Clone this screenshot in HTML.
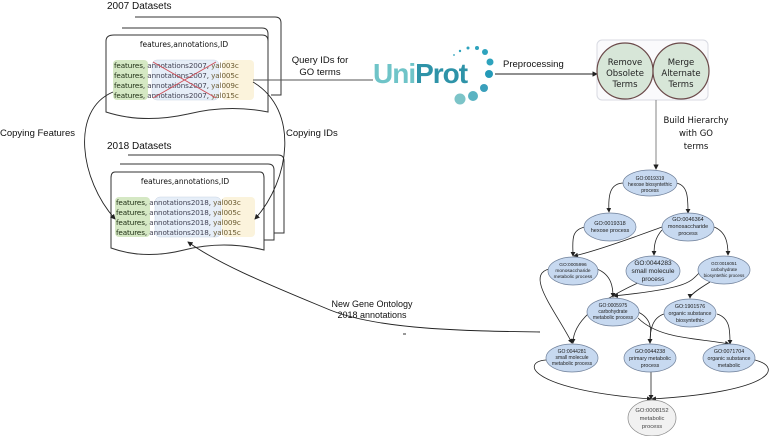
<!DOCTYPE html>
<html><head><meta charset="utf-8"><style>
html,body{margin:0;padding:0;background:#fff;}
svg{display:block;}
.h{font-family:"Comic Sans MS","DejaVu Sans",sans-serif;}
.s{font-family:"Liberation Sans",sans-serif;}
</style></head><body>
<svg width="777" height="436" viewBox="0 0 777 436" xmlns="http://www.w3.org/2000/svg">
<defs>
<marker id="a" markerWidth="6" markerHeight="6" refX="5" refY="3" orient="auto"><path d="M0,0 L6,3 L0,6 z" fill="#222"/></marker>
</defs>
<!-- 2007 datasets -->
<text x="107" y="9" class="s" font-size="10" fill="#111">2007 Datasets</text>
<path d="M135,17 h140 q6,0 6,6 v72 h-10" fill="#fff" stroke="#333" stroke-width="1"/>
<path d="M122,28 h140 q6,0 6,6 v70 h-10" fill="#fff" stroke="#333" stroke-width="1"/>
<path d="M114,35 h148 q6,0 6,6 v71 q-40,-8 -80,2 q-45,10 -82,-2 v-71 q0,-6 8,-6z" fill="#fff" stroke="#333" stroke-width="1"/>
<text x="184" y="47" class="h" font-size="7.5" text-anchor="middle" fill="#111">features,annotations,ID</text>
<rect x="113" y="60" width="35" height="40" rx="4" fill="#d5e8c4"/>
<rect x="152" y="60" width="67" height="40" rx="5" fill="#e6eef8" stroke="#c8d4e4" stroke-width="0.5"/>
<rect x="222" y="60" width="32" height="40" rx="4" fill="#fbf3dc"/>
<g class="h" font-size="7.2" letter-spacing="-0.1">
<text x="114" y="68"><tspan fill="#1a2a10">features</tspan><tspan fill="#333">, </tspan><tspan fill="#445">annotations2007</tspan><tspan fill="#333">, </tspan><tspan fill="#6a5a30">yal003c</tspan></text>
<text x="114" y="78"><tspan fill="#1a2a10">features</tspan><tspan fill="#333">, </tspan><tspan fill="#445">annotations2007</tspan><tspan fill="#333">, </tspan><tspan fill="#6a5a30">yal005c</tspan></text>
<text x="114" y="88"><tspan fill="#1a2a10">features</tspan><tspan fill="#333">, </tspan><tspan fill="#445">annotations2007</tspan><tspan fill="#333">, </tspan><tspan fill="#6a5a30">yal009c</tspan></text>
<text x="114" y="98"><tspan fill="#1a2a10">features</tspan><tspan fill="#333">, </tspan><tspan fill="#445">annotations2007</tspan><tspan fill="#333">, </tspan><tspan fill="#6a5a30">yal015c</tspan></text>
</g>
<path d="M153,62 L216,98 M216,62 L153,98" stroke="#d0505a" stroke-width="1"/>
<!-- 2018 -->
<text x="107" y="149" class="s" font-size="10" fill="#111">2018 Datasets</text>
<path d="M128,155 h150 q6,0 6,6 v72 h-10" fill="#fff" stroke="#333"/>
<path d="M120,164 h148 q6,0 6,6 v70 h-10" fill="#fff" stroke="#333"/>
<path d="M115,172 h145 q4,0 4,6 v72 q-40,-10 -80,0 q-40,10 -73,-2 v-70 q0,-6 4,-6z" fill="#fff" stroke="#333"/>
<text x="185" y="184" class="h" font-size="7.5" text-anchor="middle" fill="#111">features,annotations,ID</text>
<rect x="115" y="197" width="35" height="40" rx="4" fill="#d5e8c4"/>
<rect x="155" y="197" width="66" height="40" rx="5" fill="#e6eef8" stroke="#c8d4e4" stroke-width="0.5"/>
<rect x="222" y="197" width="33" height="40" rx="4" fill="#fbf3dc"/>
<g class="h" font-size="7.2" letter-spacing="-0.1">
<text x="116" y="205"><tspan fill="#1a2a10">features</tspan><tspan fill="#333">, </tspan><tspan fill="#445">annotations2018</tspan><tspan fill="#333">, </tspan><tspan fill="#6a5a30">yal003c</tspan></text>
<text x="116" y="215"><tspan fill="#1a2a10">features</tspan><tspan fill="#333">, </tspan><tspan fill="#445">annotations2018</tspan><tspan fill="#333">, </tspan><tspan fill="#6a5a30">yal005c</tspan></text>
<text x="116" y="225"><tspan fill="#1a2a10">features</tspan><tspan fill="#333">, </tspan><tspan fill="#445">annotations2018</tspan><tspan fill="#333">, </tspan><tspan fill="#6a5a30">yal009c</tspan></text>
<text x="116" y="235"><tspan fill="#1a2a10">features</tspan><tspan fill="#333">, </tspan><tspan fill="#445">annotations2018</tspan><tspan fill="#333">, </tspan><tspan fill="#6a5a30">yal015c</tspan></text>
</g>
<!-- copying curves -->
<path d="M113,92 C70,110 80,180 115,219" fill="none" stroke="#222" stroke-width="0.9" marker-end="url(#a)"/>
<text x="0" y="136" class="s" font-size="9.5" fill="#111">Copying Features</text>
<path d="M253,82 C300,110 290,180 255,219" fill="none" stroke="#222" stroke-width="0.9" marker-end="url(#a)"/>
<text x="286" y="136" class="s" font-size="9.5" fill="#111">Copying IDs</text>
<!-- query -->
<line x1="253" y1="80" x2="373" y2="80" stroke="#555" stroke-width="0.9"/>
<text x="320" y="63" class="s" font-size="9.5" text-anchor="middle" fill="#111">Query IDs for</text>
<text x="320" y="75" class="s" font-size="9.5" text-anchor="middle" fill="#111">GO terms</text>
<text x="373" y="83" class="s" font-size="28" font-weight="bold" fill="#3aa6b4" letter-spacing="-1"><tspan fill="#6fc4c8">Uni</tspan><tspan fill="#2e93a8">Prot</tspan></text>
<g fill="#2ea3bd">
<circle cx="460" cy="99" r="5.5" fill="#7cc4c8"/><circle cx="473" cy="96" r="5" fill="#5bb3c2"/>
<circle cx="484" cy="88" r="4" fill="#3a9fbb"/><circle cx="489" cy="74" r="4" fill="#249ab8"/>
<circle cx="490" cy="62" r="3.5"/><circle cx="485" cy="52" r="3"/><circle cx="477" cy="48" r="2"/>
<circle cx="468" cy="48" r="1.5"/><circle cx="460" cy="51" r="1.2"/><circle cx="454" cy="55" r="0.9"/>
</g>
<line x1="495" y1="74" x2="597" y2="74" stroke="#222" stroke-width="0.9" marker-end="url(#a)"/>
<text x="503" y="67" class="s" font-size="9.5" fill="#111">Preprocessing</text>
<!-- preprocessing box -->
<rect x="597" y="40" width="111" height="60" rx="5" fill="#fafafc" stroke="#d8dae2"/>
<circle cx="625" cy="71" r="28" fill="#d7e6d8" stroke="#6b4a4a" stroke-width="1.2"/>
<circle cx="681" cy="71" r="28" fill="#d7e6d8" stroke="#6b4a4a" stroke-width="1.2"/>
<g class="h" font-size="8.5" text-anchor="middle" fill="#222">
<text x="625" y="65">Remove</text><text x="625" y="76">Obsolete</text><text x="625" y="87">Terms</text>
<text x="681" y="65">Merge</text><text x="681" y="76">Alternate</text><text x="681" y="87">Terms</text>
</g>
<line x1="656" y1="100" x2="656" y2="169" stroke="#777" stroke-width="0.9" marker-end="url(#a)"/>
<g class="h" font-size="8.5" text-anchor="middle" fill="#111">
<text x="696" y="123">Build Hierarchy</text><text x="696" y="136">with GO</text><text x="696" y="149">terms</text>
</g>
<!-- new GO curve -->
<path d="M540,332 C470,331 380,330 330,310 C270,285 220,265 188,242" fill="none" stroke="#222" stroke-width="0.9" marker-end="url(#a)"/>
<text x="372" y="307" class="s" font-size="9" text-anchor="middle" fill="#111">New Gene Ontology</text>
<text x="372" y="318" class="s" font-size="9" text-anchor="middle" fill="#111">2018 annotations</text>
<line x1="403" y1="334" x2="406" y2="334" stroke="#333"/>
<!-- GO edges -->
<g fill="none" stroke="#222" stroke-width="0.8">
<path d="M624,183 C610,183 608,195 609,212" marker-end="url(#a)"/>
<path d="M676,183 C688,185 688,198 688,213" marker-end="url(#a)"/>
<path d="M585,227 C570,230 573,242 573,256" marker-end="url(#a)"/>
<path d="M662,227 C640,235 600,250 574,256" marker-end="url(#a)"/>
<path d="M662,230 C655,238 654,245 654,255" marker-end="url(#a)"/>
<path d="M714,227 C727,232 728,245 728,255" marker-end="url(#a)"/>
<path d="M549,269 C525,275 555,310 572,343" marker-end="url(#a)"/>
<path d="M597,269 C612,275 613,288 613,297" marker-end="url(#a)"/>
<path d="M640,282 C600,300 573,320 573,343" marker-end="url(#a)"/>
<path d="M700,272 C690,282 690,288 614,296" marker-end="url(#a)"/>
<path d="M710,282 C697,290 690,295 690,298" marker-end="url(#a)"/>
<path d="M638,312 C655,320 650,335 650,343" marker-end="url(#a)"/>
<path d="M638,318 C660,340 700,338 729,344" marker-end="url(#a)"/>
<path d="M664,314 C652,318 650,330 650,343" marker-end="url(#a)"/>
<path d="M717,314 C730,318 730,330 730,344" marker-end="url(#a)"/>
<path d="M546,360 C520,362 530,390 651,399" marker-end="url(#a)"/>
<path d="M651,372 L651,399" marker-end="url(#a)"/>
<path d="M755,360 C785,368 770,392 652,399" marker-end="url(#a)"/>
</g>
<!-- GO nodes -->
<g stroke="#6e7f99" stroke-width="0.7" fill="#c7d9f0">
<ellipse cx="650" cy="183" rx="27" ry="13"/>
<ellipse cx="610" cy="227" rx="26" ry="14"/>
<ellipse cx="688" cy="227" rx="26" ry="14"/>
<ellipse cx="573" cy="271" rx="25" ry="14"/>
<ellipse cx="653" cy="271" rx="27" ry="15"/>
<ellipse cx="724" cy="270" rx="26" ry="14"/>
<ellipse cx="613" cy="312" rx="26" ry="14"/>
<ellipse cx="690" cy="313" rx="26" ry="14"/>
<ellipse cx="572" cy="358" rx="26" ry="14"/>
<ellipse cx="650" cy="358" rx="26" ry="14"/>
<ellipse cx="729" cy="358" rx="26" ry="14"/>
<ellipse cx="652" cy="418" rx="24" ry="18" fill="#f1f1f1" stroke="#888"/>
</g>
<g class="s" text-anchor="middle" fill="#222">
<g font-size="5"><text x="650" y="180">GO:0019319</text><text x="650" y="186">hexose biosyntethic</text><text x="650" y="192">process</text></g>
<g font-size="5.5"><text x="610" y="225">GO:0019318</text><text x="610" y="232">hexose process</text></g>
<g font-size="5.5"><text x="688" y="221">GO:0046364</text><text x="688" y="228">monosaccharide</text><text x="688" y="235">process</text></g>
<g font-size="4.8"><text x="573" y="266">GO:0005996</text><text x="573" y="272">monosaccharide</text><text x="573" y="278">metabolic process</text></g>
<g font-size="6.5"><text x="653" y="265">GO:0044283</text><text x="653" y="273">small molecule</text><text x="653" y="281">process</text></g>
<g font-size="4.5"><text x="724" y="265">GO:0016051</text><text x="724" y="271">carbohydrate</text><text x="724" y="277">biosyntethic process</text></g>
<g font-size="5"><text x="613" y="307">GO:0005975</text><text x="613" y="313">carbohydrate</text><text x="613" y="319">metabolic process</text></g>
<g font-size="5.3"><text x="690" y="308">GO:1901576</text><text x="690" y="315">organic substance</text><text x="690" y="322">biosyntethic</text></g>
<g font-size="5"><text x="572" y="353">GO:0044281</text><text x="572" y="359">small molecule</text><text x="572" y="365">metabolic process</text></g>
<g font-size="5.3"><text x="650" y="353">GO:0044238</text><text x="650" y="360">primary metabolic</text><text x="650" y="367">process</text></g>
<g font-size="5.3"><text x="729" y="353">GO:0071704</text><text x="729" y="360">organic substance</text><text x="729" y="367">metabolic</text></g>
<g font-size="5.8" fill="#444"><text x="652" y="412">GO:0008152</text><text x="652" y="420">metabolic</text><text x="652" y="428">process</text></g>
</g>
</svg>
</body></html>
